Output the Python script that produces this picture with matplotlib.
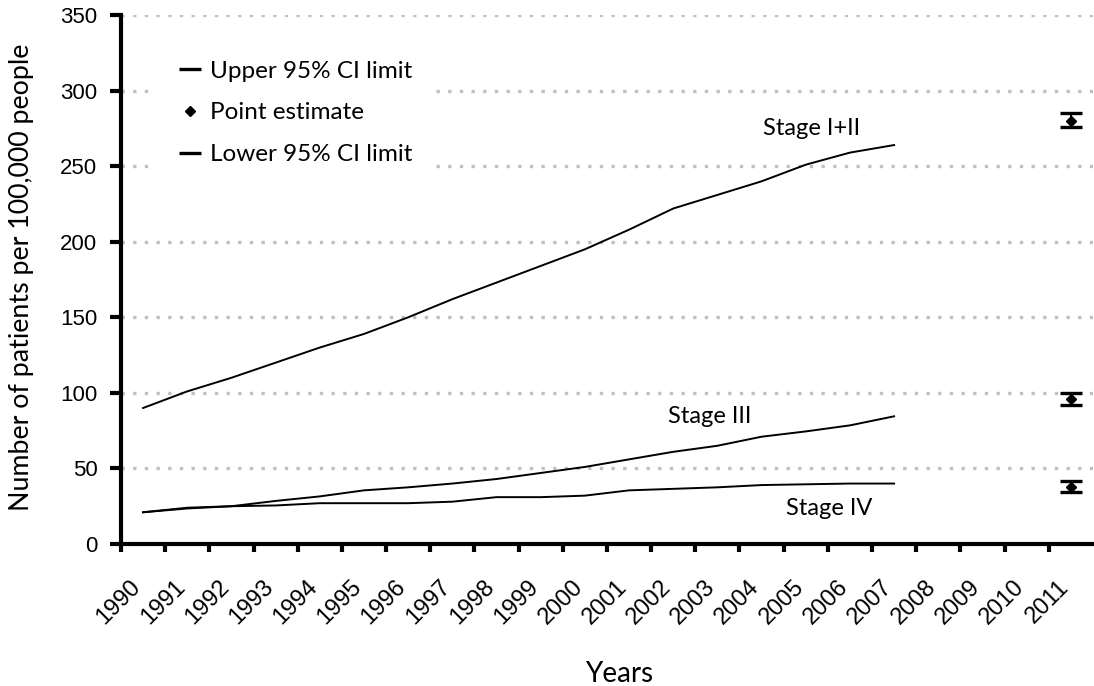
import numpy as np
import matplotlib.pyplot as plt

plt.rcParams['font.family'] = ['Lato', 'DejaVu Sans']

years = [str(y) for y in range(1990, 2012)]

# Observed incidence, 1990-2007
stage_12 = [90, 101, 110, 120, 130, 139, 150, 162, 173, 184, 195, 208, 222, 231, 240, 251, 259, 264]
stage_3 = [21, 24, 25, 28.5, 31.5, 35.5, 37.5, 40, 43, 47, 51, 56, 61, 65, 71, 74.5, 78.5, 84.5]
stage_4 = [21, 23.5, 25, 25.5, 27, 27, 27, 28, 31, 31, 32, 35.5, 36.5, 37.5, 39, 39.5, 40, 40]

# Projection for 2011
upper_ci = [285, 99.7, 41.7]
point_est = [280, 95.7, 37.9]
lower_ci = [276, 92, 34.4]

fig, ax = plt.subplots(figsize=(10.94, 6.86), dpi=100)
fig.subplots_adjust(left=0.1106, right=0.999, bottom=0.207, top=0.978)

x = np.arange(len(stage_12))
for series in (stage_12, stage_3, stage_4):
    ax.plot(x, series, color='black', linewidth=1.4)

x_proj = [21] * len(point_est)
ax.vlines(x_proj, lower_ci, upper_ci, color='black', linewidth=1.4)
ax.plot(x_proj, upper_ci, linestyle='none', marker='_', markersize=16,
        markeredgewidth=2.4, color='black', label='Upper 95% CI limit')
ax.plot(x_proj, point_est, linestyle='none', marker='D', markersize=5,
        color='black', label='Point estimate')
ax.plot(x_proj, lower_ci, linestyle='none', marker='_', markersize=16,
        markeredgewidth=2.4, color='black', label='Lower 95% CI limit')

# Stage labels
ax.text(15.13, 275, 'Stage I+II', fontsize=17, ha='center', va='center')
ax.text(12.83, 84.7, 'Stage III', fontsize=17, ha='center', va='center')
ax.text(15.54, 23.2, 'Stage IV', fontsize=17, ha='center', va='center')

# Axes
ax.set_xlim(-0.5, 21.5)
ax.set_ylim(0, 350)
ax.set_yticks(np.arange(0, 351, 50))
ax.set_xticks(np.arange(-0.5, 21.5, 1))
ax.set_xticklabels([])
ax.set_xticks(np.arange(22) - 0.3, minor=True)
ax.set_xticklabels(years, minor=True, rotation=45, ha='right', va='top',
                   rotation_mode='anchor', fontsize=17, family='Liberation Sans')
ax.tick_params(axis='x', which='minor', length=0, pad=23)
ax.tick_params(axis='x', which='major', direction='out', length=6, width=3)
ax.tick_params(axis='y', direction='out', length=8, width=3, labelsize=16, pad=9)
for lab in ax.get_yticklabels():
    lab.set_family('Liberation Sans')

for side in ('top', 'right'):
    ax.spines[side].set_visible(False)
for side in ('left', 'bottom'):
    ax.spines[side].set_linewidth(3)

ax.yaxis.grid(True, color='#c0c0c0', linewidth=2.4, linestyle=(0, (1, 2.5)))
ax.set_axisbelow(True)

ax.set_xlabel('Years', fontsize=20)
ax.xaxis.set_label_coords(0.512, -0.221)
ax.set_ylabel('Number of patients per 100,000 people', fontsize=19.3)
ax.yaxis.set_label_coords(-0.0895, 0.505)

leg = ax.legend(loc='upper left', bbox_to_anchor=(0.036, 0.955), frameon=True,
                fontsize=17.5, handlelength=1.0, handletextpad=0.33,
                labelspacing=0.85, borderpad=0.9, borderaxespad=0)
leg.get_frame().set_edgecolor('none')
leg.get_frame().set_facecolor('white')
leg.get_frame().set_alpha(1)

fig.savefig('out.png', dpi=100)
